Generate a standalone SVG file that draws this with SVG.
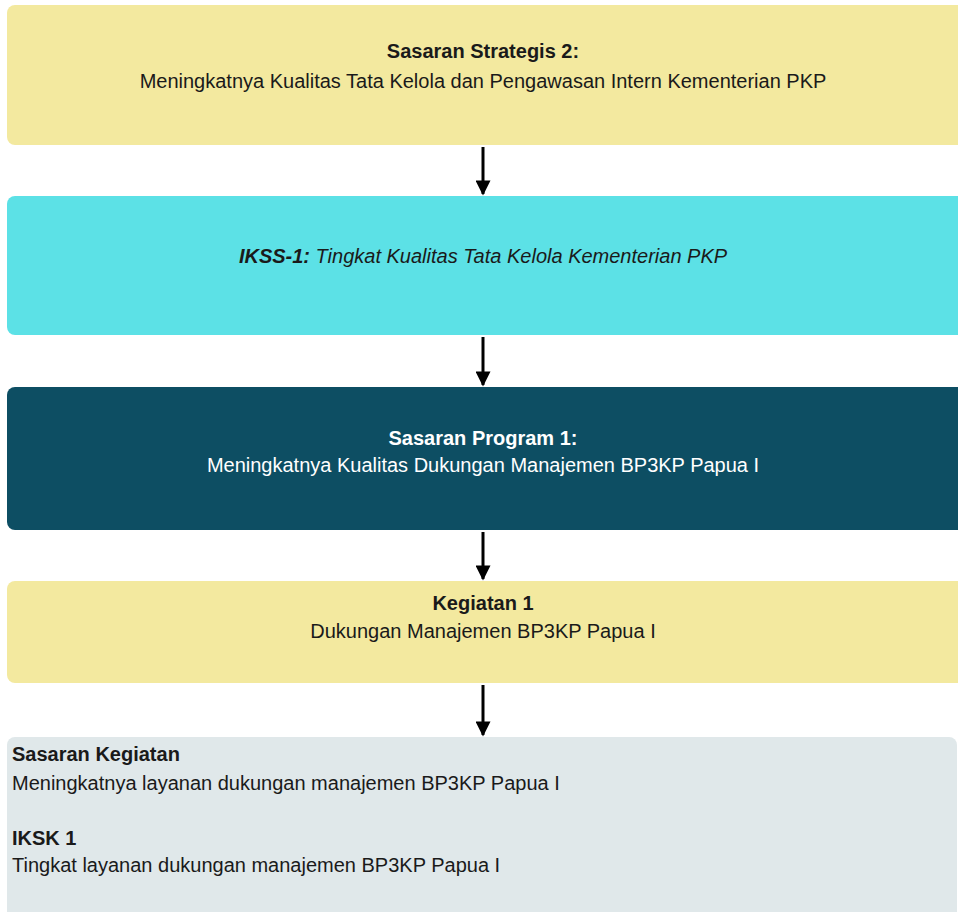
<svg xmlns="http://www.w3.org/2000/svg" width="958" height="912" viewBox="0 0 958 912">
<defs>
<style>
text{font-family:"Liberation Sans",Arial,sans-serif;font-size:20px;fill:#1a1a1a}
.c{text-anchor:middle}
.b{font-weight:bold}
.w{fill:#ffffff}
.i{font-style:italic}
.arr{stroke:#000;stroke-width:3;fill:none}
</style>
<marker id="ah" viewBox="0 0 10 10" refX="9" refY="5" markerWidth="5.5" markerHeight="5" orient="auto" markerUnits="strokeWidth">
<path d="M0,0 L10,5 L0,10 Z" fill="#000"/>
</marker>
</defs>
<rect width="958" height="912" fill="#ffffff"/>
<g id="n1">
<rect x="7" y="5" width="958" height="140" rx="8" fill="#f3e99f"/>
<text class="c b" x="483" y="58">Sasaran Strategis 2:</text>
<text class="c" x="483" y="88">Meningkatnya Kualitas Tata Kelola dan Pengawasan Intern Kementerian PKP</text>
</g>
<g id="n2">
<rect x="7" y="196" width="958" height="139" rx="8" fill="#5ce1e6"/>
<text class="c i" x="483" y="263"><tspan class="b">IKSS-1:</tspan> Tingkat Kualitas Tata Kelola Kementerian PKP</text>
</g>
<g id="n3">
<rect x="7" y="387" width="958" height="143" rx="8" fill="#0d4e63"/>
<text class="c b w" x="483" y="445">Sasaran Program 1:</text>
<text class="c w" x="483" y="472">Meningkatnya Kualitas Dukungan Manajemen BP3KP Papua I</text>
</g>
<g id="n4">
<rect x="7" y="581" width="958" height="102" rx="8" fill="#f3e99f"/>
<text class="c b" x="483" y="610">Kegiatan 1</text>
<text class="c" x="483" y="638">Dukungan Manajemen BP3KP Papua I</text>
</g>
<g id="n5">
<rect x="7" y="737" width="950" height="185" rx="8" fill="#e0e8ea"/>
<text class="b" x="12" y="761">Sasaran Kegiatan</text>
<text x="12" y="790">Meningkatnya layanan dukungan manajemen BP3KP Papua I</text>
<text class="b" x="12" y="845">IKSK 1</text>
<text x="12" y="872">Tingkat layanan dukungan manajemen BP3KP Papua I</text>
</g>
<g id="connectors">
<line class="arr" x1="483" y1="147" x2="483" y2="194" marker-end="url(#ah)"/>
<line class="arr" x1="483" y1="337" x2="483" y2="385" marker-end="url(#ah)"/>
<line class="arr" x1="483" y1="532" x2="483" y2="579" marker-end="url(#ah)"/>
<line class="arr" x1="483" y1="685" x2="483" y2="735" marker-end="url(#ah)"/>
</g>
</svg>
